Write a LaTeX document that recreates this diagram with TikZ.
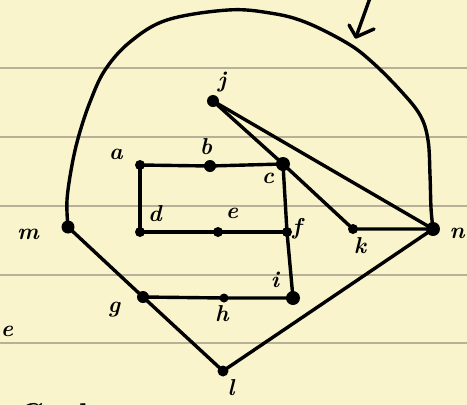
\documentclass[tikz,border=0pt]{standalone}
\usetikzlibrary{calc}
\definecolor{paper}{RGB}{250,244,204}
\definecolor{rule}{RGB}{184,176,152}
\tikzset{
  dot/.style={circle,fill=black,inner sep=0pt,minimum size=#1},
  dot/.default=9pt,
  edge/.style={line width=3.4pt,line cap=round,line join=round},
  lab/.style={font=\fontsize{23}{23}\selectfont\bfseries\itshape,inner sep=0pt}
}
\begin{document}
\begin{tikzpicture}[x=1pt,y=-1pt]
\useasboundingbox (0,0) rectangle (467,405);
\clip (0,0) rectangle (467,405);
\fill[paper] (0,0) rectangle (467,405);
\foreach \yy in {68,137,206,275,343}
  \draw[rule,line width=1.4pt] (0,\yy) -- (467,\yy);
% vertices
\node[dot=12pt] (j) at (213,101) {};
\node[dot=10pt] (a) at (140,165) {};
\node[dot=12pt] (b) at (210,166) {};
\node[dot=14pt] (c) at (283,164) {};
\node[dot=10pt] (d) at (140,232) {};
\node[dot=10pt] (e) at (218,232) {};
\node[dot=10pt] (f) at (287,232) {};
\node[dot=10pt] (k) at (353,229) {};
\node[dot=14pt] (n) at (433,229) {};
\node[dot=13pt] (m) at (68,227) {};
\node[dot=12pt] (g) at (143,297) {};
\node[dot=9pt] (h) at (224,298) {};
\node[dot=14pt] (i) at (293,298) {};
\node[dot=11pt] (l) at (223,371) {};
% edges
\draw[edge] (a.center) -- (b.center) -- (c.center);
\draw[edge] (a.center) -- (d.center);
\draw[edge] (d.center) -- (e.center) -- (f.center);
\draw[edge] (c.center) -- (f.center) -- (i.center);
\draw[edge] (g.center) -- (h.center) -- (i.center);
\draw[edge] (m.center) -- (g.center) -- (l.center) -- (n.center);
\draw[edge] (j.center) -- (c.center) -- (k.center) -- (n.center);
\draw[edge] (j.center) -- (n.center);
\draw[edge] plot[smooth,tension=0.6] coordinates {(68,227) (67,200) (72,165) (79,135) (90,102) (105,70) (130,42) (167,20) (228,10) (270,13) (305,22) (347,43) (372,62) (400,90) (420,115) (428,140) (430,175) (431,208) (433,229)};
% arrow
\coordinate (arrT) at (370,-2);
\coordinate (arrH) at (356,37);
\coordinate (arrL) at (349,25);
\coordinate (arrR) at (374,29);
\draw[edge] (arrT) -- (arrH);
\draw[edge] (arrL) -- (arrH) -- (arrR);
% labels
\node[lab] (la) at (116,154) {a};
\node[lab] (lb) at (206,147) {b};
\node[lab] (lc) at (268,178) {c};
\node[lab] (ld) at (155,214) {d};
\node[lab] (le) at (232,213) {e};
\node[lab] (lf) at (297,229) {f};
\node[lab] (lj) at (222,82) {j};
\node[lab] (lk) at (360,246) {k};
\node[lab] (lm) at (28,234) {m};
\node[lab] (ln) at (457,233) {n};
\node[lab] (lg) at (114,310) {g};
\node[lab] (lh) at (222,314) {h};
\node[lab] (li) at (275,280) {i};
\node[lab] (ll) at (231,388) {l};
\node[lab] (le2) at (7,331) {e};
\node[lab,anchor=base west,font=\fontsize{30}{30}\selectfont\bfseries\itshape] (goal) at (-12,424) {) Goal};
\end{tikzpicture}
\end{document}
